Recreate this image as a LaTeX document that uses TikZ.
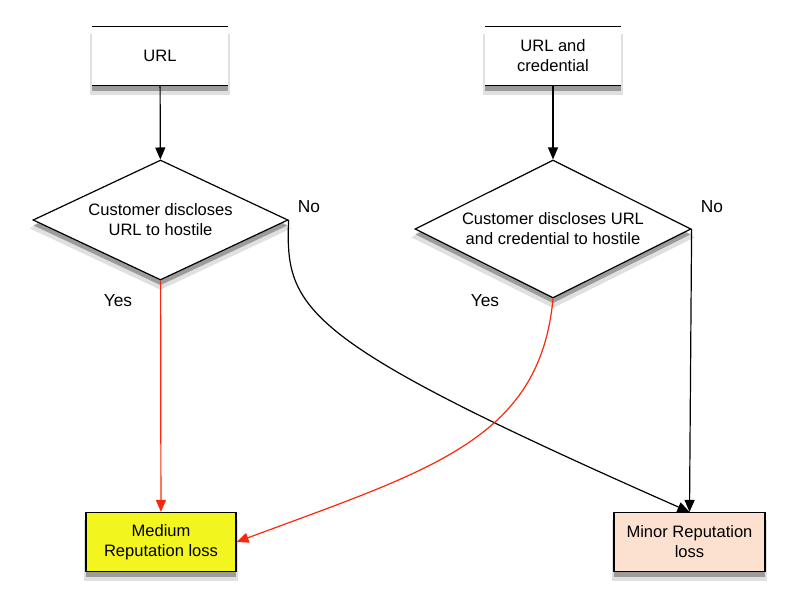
\documentclass[tikz,border=0pt]{standalone}
\usepackage{fontspec}
\setmainfont{Liberation Sans}
\usepackage{tikz}
\usetikzlibrary{positioning,shapes.geometric,shadows,arrows.meta}
\definecolor{medyellow}{RGB}{243,246,30}
\definecolor{minorpeach}{RGB}{253,225,208}
\definecolor{yesred}{RGB}{250,40,10}

\begin{document}
\begin{tikzpicture}[
        x=0.75pt, y=-0.75pt,
        font=\fontsize{12.4}{15}\selectfont,
        softshadow/.style={
            drop shadow={shadow xshift=0pt, shadow yshift=-6pt, shadow scale=1.03, fill=black, opacity=0.12},
            drop shadow={shadow xshift=0pt, shadow yshift=-4pt, fill=black, opacity=0.3}},
        input/.style={rectangle, fill=white, softshadow, outer sep=0pt, minimum width=102pt, minimum height=44.25pt, align=center},
        decision/.style={diamond, draw, line width=0.9pt, fill=white, softshadow, aspect=2, inner sep=0pt, align=center},
        outcome/.style={rectangle, draw, line width=0.9pt, softshadow, minimum width=112.5pt, minimum height=44.25pt, align=center},
        edge/.style={draw, line width=0.9pt, -{Triangle[length=9pt, width=7.5pt]}},
        yes/.style={edge, yesred},
        answer/.style={font=\fontsize{13}{15}\selectfont}
    ]
        \useasboundingbox (0,0) rectangle (799,612);

        % Inputs
        \node[input] (url) at (160,56) {URL};
        \node[input, right=192.75pt of url] (urlcred) {URL and\\credential};
        \draw[line width=0.9pt] (url.north west) -- (url.north east) (url.south west) -- (url.south east);
        \draw[line width=0.9pt] (urlcred.north west) -- (urlcred.north east) (urlcred.south west) -- (urlcred.south east);

        % Decisions
        \node[decision, minimum width=191.25pt, minimum height=90pt] (dec1) at (160.5,220) {Customer discloses\\URL to hostile};
        \node[decision, minimum width=207pt, minimum height=103.5pt] (dec2) at (553,229) {Customer discloses URL\\and credential to hostile};

        % Outcomes
        \node[outcome, fill=medyellow] (medium) at (161,542) {Medium\\Reputation loss};
        \node[outcome, fill=minorpeach, minimum width=113.25pt] (minor) at (689.5,542) {Minor Reputation\\loss};

        % Edges
        \draw[edge] (url) -- (dec1);
        \draw[edge] (urlcred) -- (dec2);
        \draw[yes] (dec1) -- (medium);
        \draw[edge] (dec1.east) .. controls (285,310) and (300,340) .. (minor.north);
        \draw[edge] (dec2.east) -- (minor.north);
        \draw[yes] (dec2.south) .. controls (540,440) and (430,470) .. (medium.east);

        % Answers
        \node[answer] (no1) at (309,207) {No};
        \node[answer] (yes1) at (118,301) {Yes};
        \node[answer] (yes2) at (485,301) {Yes};
        \node[answer] (no2) at (712,207) {No};
    \end{tikzpicture}
\end{document}
